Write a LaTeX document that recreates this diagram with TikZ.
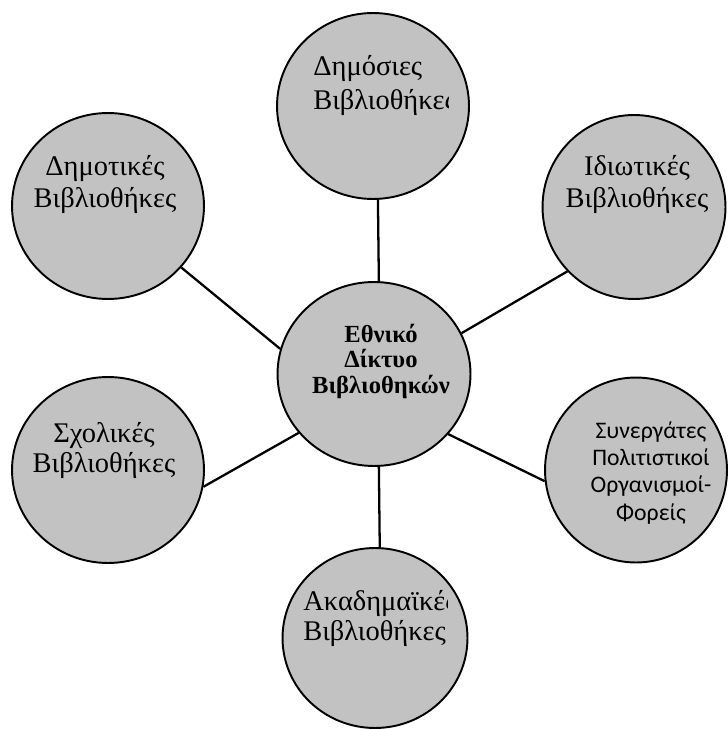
\documentclass[tikz,border=0pt]{standalone}
\usepackage{fontspec}
\setmainfont{Liberation Serif}
\newfontfamily\grsans{Carlito}
\usetikzlibrary{shapes.geometric}
\definecolor{libgray}{RGB}{194,194,194}

\begin{document}
\begin{tikzpicture}[x=0.02cm, y=-0.02cm,
	lib/.style={draw, ellipse, fill=libgray, line width=1.1pt, inner sep=0pt, minimum width=3.84cm, minimum height=3.72cm},
	txt/.style={inner sep=0pt, font=\fontsize{16.2}{18.5}\selectfont},
	link/.style={line width=1.3pt}]
	\useasboundingbox (0,0) rectangle (727,729);

	\node[lib] (pub) at (373,106) {};
	\node[lib, minimum width=3.86cm, minimum height=3.68cm] (nat) at (374,374) {};
	\node[lib] (mun) at (108,206) {};
	\node[lib, minimum width=3.66cm, minimum height=3.68cm] (priv) at (634,207) {};
	\node[lib] (sch) at (108,470) {};
	\node[lib, minimum width=3.64cm, minimum height=3.7cm] (part) at (636,470) {};
	\node[lib, minimum width=3.7cm, minimum height=3.6cm] (acad) at (375,638) {};

	\draw[link] (pub.-87) -- (nat.87);
	\draw[link] (mun.-40) -- (nat.165);
	\draw[link] (priv.224) -- (nat.25);
	\draw[link] (sch.-10) -- (nat.218);
	\draw[link] (part.187) -- (nat.-39);
	\draw[link] (nat.-87) -- (acad.87);

	% base of a two-line node sits on its last line
	\begin{scope}
		\clip (300,40) rectangle (448,130);
		\node[txt, align=left, anchor=base west, font=\fontsize{16.2}{19.5}\selectfont] (pubtxt) at (313,110) {Δημόσιες\\Βιβλιοθήκες};
	\end{scope}
	\node[align=center, anchor=base, inner sep=0pt, font=\bfseries\fontsize{14}{14.5}\selectfont] (nattxt) at (381,393) {Εθνικό\\Δίκτυο\\Βιβλιοθηκών};
	\node[txt, align=center, anchor=base] (muntxt) at (105,208) {Δημοτικές\\Βιβλιοθήκες};
	\node[txt, align=center, anchor=base] (privtxt) at (637,208) {Ιδιωτικές\\Βιβλιοθήκες};
	\node[txt, align=center, anchor=base, font=\fontsize{16.2}{17}\selectfont] (schtxt) at (104,472) {Σχολικές\\Βιβλιοθήκες};
	\node[align=center, anchor=base, inner sep=0pt, font=\grsans\fontsize{13.5}{15.5}\selectfont] (parttxt) at (651,520) {Συνεργάτες\\Πολιτιστικοί\\Οργανισμοί-\\Φορείς};
	\begin{scope}
		\clip (290,570) rectangle (447,660);
		\node[txt, align=left, anchor=base west, font=\fontsize{16.2}{17}\selectfont] (acadtxt) at (303,640) {Ακαδημαϊκές\\Βιβλιοθήκες};
	\end{scope}
\end{tikzpicture}
\end{document}
